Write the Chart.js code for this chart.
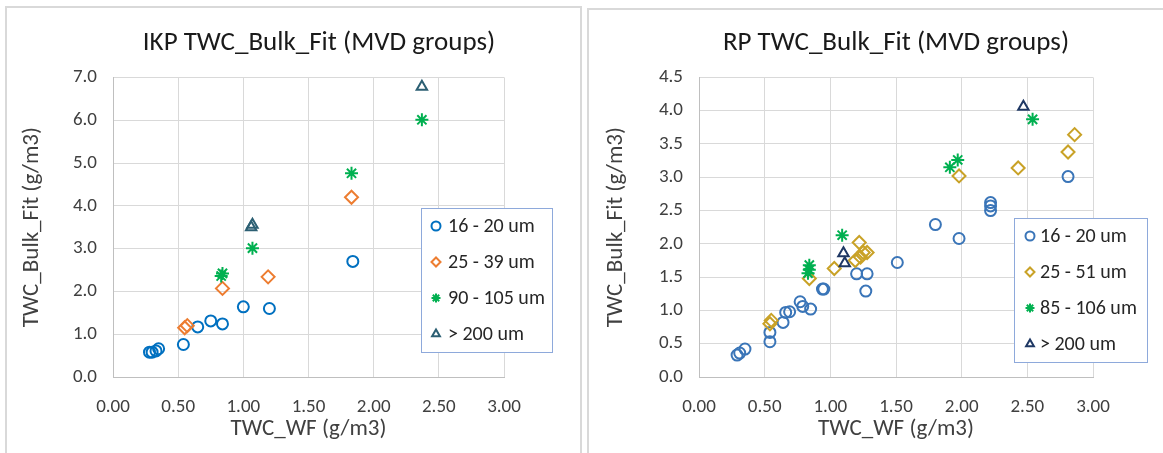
<!DOCTYPE html>
<html><head><meta charset="utf-8">
<script src="https://cdn.jsdelivr.net/npm/chart.js@4/dist/chart.umd.min.js"></script>
<style>
html,body{margin:0;padding:0;background:#fff;overflow:hidden;width:1163px;height:453px}
#wrap{position:relative;width:1163px;height:453px;overflow:hidden;background:#fff}
.panel{position:absolute;border:2px solid #D9D9D9;box-sizing:border-box;background:#fff}
canvas{position:absolute;top:0}
</style></head><body>
<div id="wrap">
<div class="panel" style="left:5px;top:6px;width:577px;height:470px"></div>
<div class="panel" style="left:587px;top:8px;width:620px;height:470px"></div>
<canvas id="c1" width="638" height="453" style="left:0;width:638px;height:453px"></canvas>
<canvas id="c2" width="624" height="453" style="left:584px;width:624px;height:453px"></canvas>
</div>
<script>
// ---------- data ----------
const xTicks = [0, 0.5, 1.0, 1.5, 2.0, 2.5, 3.0];
const ikpYTicks = [0, 1, 2, 3, 4, 5, 6, 7];
const rpYTicks = [0, 0.5, 1.0, 1.5, 2.0, 2.5, 3.0, 3.5, 4.0, 4.5];

const ikpLabels = ['16 - 20 um', '25 - 39 um', '90 - 105 um', '> 200 um'];
const ikpBlueX = [0.28, 0.30, 0.33, 0.35, 0.54, 0.65, 0.75, 0.84, 1.00, 1.20, 1.84];
const ikpBlueY = [0.58, 0.58, 0.61, 0.66, 0.76, 1.17, 1.31, 1.24, 1.64, 1.60, 2.70];
const ikpOrangeX = [0.55, 0.57, 0.84, 1.19, 1.83];
const ikpOrangeY = [1.15, 1.20, 2.07, 2.34, 4.20];
const ikpGreenX = [0.83, 0.84, 1.07, 1.83, 2.37];
const ikpGreenY = [2.36, 2.42, 3.01, 4.76, 6.01];
const ikpTriX = [1.06, 1.07, 2.37];
const ikpTriY = [3.50, 3.56, 6.78];

const rpLabels = ['16 - 20 um', '25 - 51 um', '85 - 106 um', '> 200 um'];
const rpBlueX = [0.29, 0.31, 0.35, 0.54, 0.54, 0.64, 0.66, 0.69, 0.77, 0.79, 0.85, 0.94, 0.95, 1.20, 1.28, 1.27, 1.51, 1.80, 1.98, 2.22, 2.22, 2.22, 2.81];
const rpBlueY = [0.33, 0.36, 0.42, 0.53, 0.67, 0.82, 0.97, 0.98, 1.13, 1.06, 1.02, 1.32, 1.32, 1.55, 1.55, 1.29, 1.72, 2.29, 2.08, 2.62, 2.57, 2.50, 3.01];
const rpGoldX = [0.54, 0.55, 0.84, 1.03, 1.19, 1.22, 1.23, 1.25, 1.28, 1.98, 2.43, 2.81, 2.86];
const rpGoldY = [0.80, 0.85, 1.48, 1.63, 1.75, 2.02, 1.80, 1.87, 1.87, 3.02, 3.14, 3.38, 3.64];
const rpGreenX = [0.83, 0.84, 0.84, 1.09, 1.91, 1.97, 2.54];
const rpGreenY = [1.56, 1.61, 1.68, 2.13, 3.15, 3.26, 3.87];
const rpTriX = [1.10, 1.11, 2.47];
const rpTriY = [1.86, 1.71, 4.06];

// ---------- helpers ----------
const FONT = "Carlito, 'Open Sans', sans-serif";
const pts = (xs, ys) => xs.map((x, i) => ({x: x, y: ys[i]}));

function ds(label, xs, ys, color, style, radius, order) {
  return {
    label: label, data: pts(xs, ys), pointStyle: style,
    borderColor: color, backgroundColor: 'rgba(255,255,255,0)',
    pointRadius: radius, pointHoverRadius: radius, pointBorderWidth: 2,
    showLine: false, order: order
  };
}

const boxLegend = {
  id: 'boxLegend',
  afterDraw(chart, args, o) {
    const ctx = chart.ctx;
    ctx.save();
    ctx.fillStyle = '#ffffff';
    ctx.fillRect(o.x, o.y, o.w, o.h);
    ctx.strokeStyle = o.borderColor;
    ctx.lineWidth = 1;
    ctx.strokeRect(o.x + 0.5, o.y + 0.5, o.w, o.h);
    chart.data.datasets.forEach((d, i) => {
      const cy = o.y + o.rowStart + i * o.rowGap;
      ctx.strokeStyle = d.borderColor;
      ctx.fillStyle = 'rgba(255,255,255,0)';
      ctx.lineWidth = 2;
      Chart.helpers.drawPoint(ctx, {pointStyle: d.pointStyle, radius: o.markerR, borderWidth: 2, rotation: 0}, o.x + o.markerX, cy);
      ctx.fillStyle = '#262626';
      ctx.font = o.fontSize + 'px ' + FONT;
      ctx.textBaseline = 'middle';
      ctx.textAlign = 'left';
      ctx.fillText(d.label, o.x + o.textX, cy + 1);
    });
    ctx.restore();
  }
};

function makeChart(id, title, datasets, yTicks, yMax, yDec, leftW, rightW, legend) {
  return new Chart(document.getElementById(id), {
    type: 'scatter',
    data: {datasets: datasets},
    plugins: [boxLegend],
    options: {
      responsive: false, animation: false,
      layout: {padding: 0},
      plugins: {
        legend: {display: false},
        tooltip: {enabled: false},
        title: {display: true, text: title, color: '#1a1a1a',
          font: {family: FONT, size: 27, weight: 'normal'},
          padding: {top: 27, bottom: 18}},
        boxLegend: legend
      },
      scales: {
        x: {
          type: 'linear', min: 0, max: 3,
          afterBuildTicks: s => { s.ticks = xTicks.map(v => ({value: v})); },
          afterFit: s => { s.height = 76; },
          grid: {color: '#D9D9D9', drawTicks: false},
          border: {color: '#BFBFBF'},
          ticks: {padding: 19, color: '#404040', font: {family: FONT, size: 19},
            callback: v => Number(v).toFixed(2)},
          title: {display: true, text: 'TWC_WF (g/m3)', color: '#404040',
            font: {family: FONT, size: 23}, padding: {top: 0, bottom: 10}}
        },
        y: {
          type: 'linear', min: 0, max: yMax, position: 'left',
          afterBuildTicks: s => { s.ticks = yTicks.map(v => ({value: v})); },
          afterFit: s => { s.width = leftW; },
          grid: {color: '#D9D9D9', drawTicks: false},
          border: {color: '#BFBFBF'},
          ticks: {padding: 16, color: '#404040', font: {family: FONT, size: 19},
            callback: v => Number(v).toFixed(yDec)},
          title: {display: true, text: 'TWC_Bulk_Fit (g/m3)', color: '#404040',
            font: {family: FONT, size: 23}, padding: {top: 18, bottom: 0}}
        },
        yR: {
          type: 'linear', min: 0, max: 1, position: 'right', display: true,
          afterFit: s => { s.width = rightW; },
          grid: {display: false, drawTicks: false},
          border: {display: false},
          ticks: {display: false}
        }
      }
    }
  });
}

makeChart('c1', 'IKP TWC_Bulk_Fit (MVD groups)', [
  ds(ikpLabels[0], ikpBlueX, ikpBlueY, '#0070C0', 'circle', 5.5, 4),
  ds(ikpLabels[1], ikpOrangeX, ikpOrangeY, '#ED7D31', 'rectRot', 6.5, 3),
  ds(ikpLabels[2], ikpGreenX, ikpGreenY, '#00B050', 'star', 6.5, 2),
  ds(ikpLabels[3], ikpTriX, ikpTriY, '#2C5F73', 'triangle', 6, 1)
], ikpYTicks, 7, 1, 113, 134,
  {x: 421, y: 208, w: 131, h: 144, rowStart: 18, rowGap: 36, markerX: 15, textX: 27, markerR: 4.5, fontSize: 20, borderColor: '#8EA9DB'});

makeChart('c2', 'RP TWC_Bulk_Fit (MVD groups)', [
  ds(rpLabels[0], rpBlueX, rpBlueY, '#3A75B8', 'circle', 5.5, 4),
  ds(rpLabels[1], rpGoldX, rpGoldY, '#C9A227', 'rectRot', 6.5, 3),
  ds(rpLabels[2], rpGreenX, rpGreenY, '#00B050', 'star', 6.5, 2),
  ds(rpLabels[3], rpTriX, rpTriY, '#1F3864', 'triangle', 6, 1)
], rpYTicks, 4.5, 1, 115, 115,
  {x: 430, y: 218, w: 133, h: 144, rowStart: 18, rowGap: 36, markerX: 16, textX: 26, markerR: 4.5, fontSize: 20, borderColor: '#8EA9DB'});
</script>
</body></html>
